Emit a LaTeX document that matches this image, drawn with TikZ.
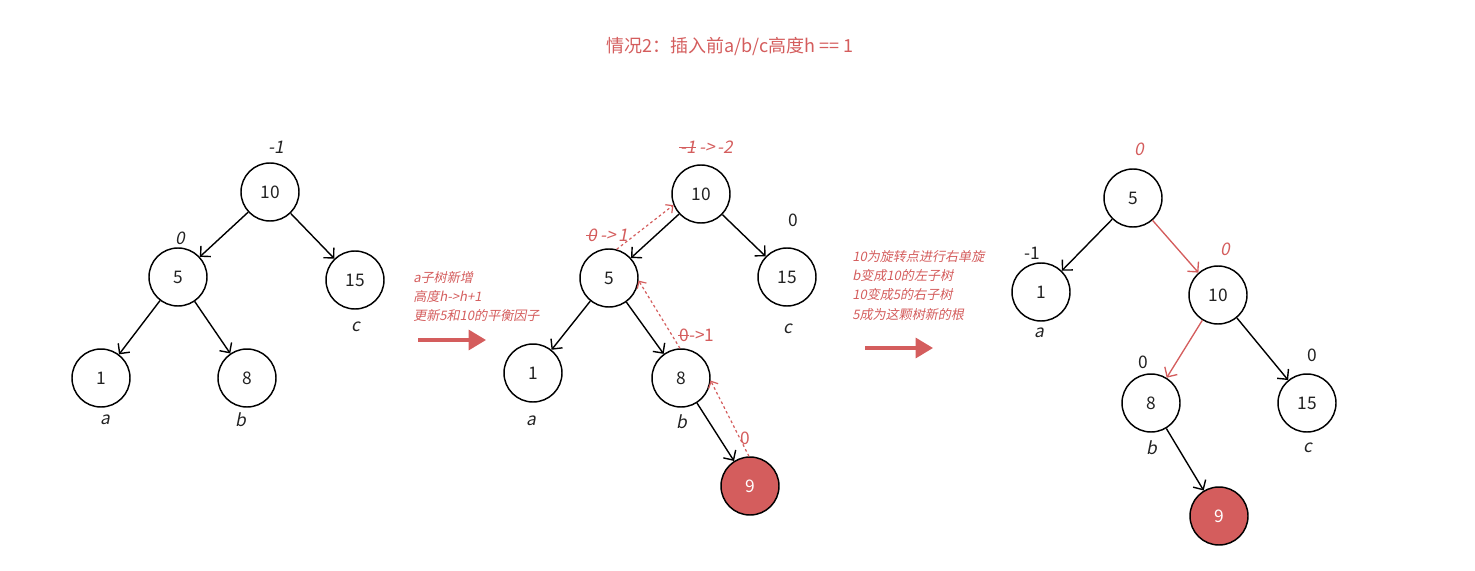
\documentclass[tikz,border=0pt]{standalone}
\usepackage{fontspec}
\setmainfont{Noto Sans CJK SC}[ItalicFont=Noto Sans CJK SC, ItalicFeatures={FakeSlant=0.2}]
\usetikzlibrary{arrows.meta}
\definecolor{myred}{HTML}{D45D5D}
\definecolor{ink}{HTML}{222222}
\newcommand\mystrike[1]{\setbox0\hbox{#1}\rlap{\kern-1pt\raisebox{0.33em}{\rule{\dimexpr\wd0+1pt\relax}{0.6pt}}}\box0}
\tikzset{
  tn/.style={circle,draw=black,line width=1.1pt,minimum size=43.5pt,inner sep=0pt,font=\fontsize{13}{15}\selectfont,text=ink},
  tnred/.style={tn,fill=myred,text=white},
  edge/.style={draw=black,line width=1.05pt,-{Straight Barb[length=5.5pt,width=11pt]}},
  redge/.style={draw=myred,line width=1pt,-{Straight Barb[length=5.5pt,width=11pt]}},
  dotarrow/.style={draw=myred,line width=0.9pt,dash pattern=on 2pt off 2pt,-{Straight Barb[length=4pt,width=8pt]}},
  lab/.style={font=\fontsize{13}{15}\selectfont\itshape,text=ink,inner sep=0pt},
  num/.style={font=\fontsize{13}{15}\selectfont,text=ink,inner sep=0pt},
  rlab/.style={font=\fontsize{13}{15}\selectfont\itshape,text=myred,inner sep=0pt},
  note/.style={font=\fontsize{9.8}{14.5}\selectfont\itshape,text=myred,align=left,anchor=north west,inner sep=0pt},
  bigarrow/.style={draw=myred,line width=2.3pt,-{Triangle[length=13pt,width=15pt]}},
}
\begin{document}
\begin{tikzpicture}[x=0.75pt,y=-0.75pt]
\useasboundingbox (0,0) rectangle (1475,571);
% title
\node[font=\fontsize{13.5}{16}\selectfont,text=myred] (title) at (730,47) {情况2：插入前a/b/c高度h == 1};

% ---- tree 1
\node[tn] (a10) at (270,192) {10};
\node[tn] (a5) at (178,277) {5};
\node[tn] (a15) at (355,280) {15};
\node[tn] (a1) at (101,378) {1};
\node[tn] (a8) at (247,378) {8};
\draw[edge] (a10) -- (a5);
\draw[edge] (a10) -- (a15);
\draw[edge] (a5) -- (a1);
\draw[edge] (a5) -- (a8);
\node[lab] (a10b) at (276,147) {-1};
\node[lab] (a5b) at (180,238) {0};
\node[lab] (la1) at (105,420) {a};
\node[lab] (lb1) at (241,420) {b};
\node[lab] (lc1) at (356,327) {c};

% note 1 + arrow
\node[note] (note1) at (413,271) {a子树新增\\高度h->h+1\\更新5和10的平衡因子};
\coordinate (ar1s) at (418,340);
\coordinate (ar1e) at (486,340);
\draw[bigarrow] (ar1s) -- (ar1e);

% ---- tree 2
\node[tn] (b10) at (701,194) {10};
\node[tn] (b5) at (609,278) {5};
\node[tn] (b15) at (787,277) {15};
\node[tn] (b1) at (533,373) {1};
\node[tn] (b8) at (681,378) {8};
\node[tnred] (b9) at (750,486) {9};
\draw[edge] (b10) -- (b5);
\draw[edge] (b10) -- (b15);
\draw[edge] (b5) -- (b1);
\draw[edge] (b5) -- (b8);
\draw[edge] (b8) -- (b9);
\draw[dotarrow] (b5.75) -- (b10.202);
\draw[dotarrow] (b8.92) -- (b5.-5);
\draw[dotarrow] (b9.92) -- (b8.-5);
\node[rlab] (b10b) at (707,147) {\mystrike{-1}\,->\,-2};
\node[rlab] (b5b) at (608,235) {\mystrike{0}\,->\,1};
\node[num,text=myred] (b8b) at (697,335) {\mystrike{0}->1};
\node[num,text=myred] (b9b) at (745,438) {0};
\node[num] (b15b) at (793,220) {0};
\node[lab] (la2) at (531,421) {a};
\node[lab] (lb2) at (682,422) {b};
\node[lab] (lc2) at (788,329) {c};

% note 2 + arrow
\node[note] (note2) at (852,250) {10为旋转点进行右单旋\\b变成10的左子树\\10变成5的右子树\\5成为这颗树新的根};
\coordinate (ar2s) at (865,348);
\coordinate (ar2e) at (933,348);
\draw[bigarrow] (ar2s) -- (ar2e);

% ---- tree 3
\node[tn] (c5) at (1133,198) {5};
\node[tn] (c1) at (1041,292) {1};
\node[tn] (c10) at (1218,295) {10};
\node[tn] (c8) at (1151,403) {8};
\node[tn] (c15) at (1307,403) {15};
\node[tnred] (c9) at (1219,516) {9};
\draw[edge] (c5) -- (c1);
\draw[redge] (c5) -- (c10);
\draw[redge] (c10) -- (c8);
\draw[edge] (c10) -- (c15);
\draw[edge] (c8) -- (c9);
\node[rlab] (c5b) at (1139,149) {0};
\node[num] (c1b) at (1032,253) {-1};
\node[rlab] (c10b) at (1225,249) {0};
\node[num] (c8b) at (1143,362) {0};
\node[num] (c15b) at (1312,355) {0};
\node[lab] (la3) at (1039,333) {a};
\node[lab] (lb3) at (1152,448) {b};
\node[lab] (lc3) at (1308,448) {c};
\end{tikzpicture}
\end{document}
